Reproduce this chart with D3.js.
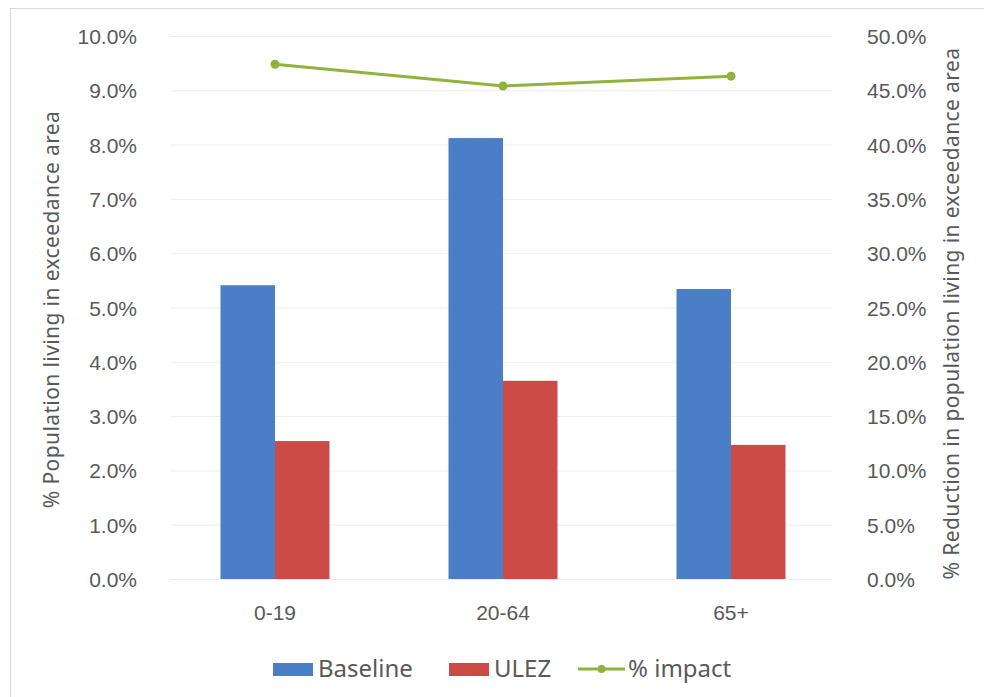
<!DOCTYPE html>
<html>
<head>
<meta charset="utf-8">
<script src="https://cdn.jsdelivr.net/npm/d3@7"></script>
<style>
  html, body { margin: 0; padding: 0; background: #fff; }
  svg { display: block; font-family: "Noto Sans", "Open Sans", sans-serif; }
</style>
</head>
<body>
<svg id="chart" width="984" height="697"></svg>
<script>
// Age groups and series
const categories = ["0-19", "20-64", "65+"];
const baseline = [0.0541, 0.0812, 0.0534];   // % population living in exceedance area, baseline
const ulez = [0.0254, 0.0365, 0.0247];       // same, with ULEZ
const impact = [0.474, 0.454, 0.463];        // % reduction (right axis)
const leftTicks = [0, 0.01, 0.02, 0.03, 0.04, 0.05, 0.06, 0.07, 0.08, 0.09, 0.10];
const rightTicks = [0, 0.05, 0.10, 0.15, 0.20, 0.25, 0.30, 0.35, 0.40, 0.45, 0.50];
const seriesNames = ["Baseline", "ULEZ", "% impact"];

const colors = { base: "#4a7ec6", ulez: "#cc4b46", line: "#8fb33c", text: "#595959", grid: "#eeeeee" };

const svg = d3.select("#chart");
const W = 984, H = 697;

// chart frame
svg.append("rect").attr("x", 10.5).attr("y", 8.5).attr("width", W).attr("height", H)
  .attr("fill", "#fff").attr("stroke", "#d9d9d9").attr("stroke-width", 1);

const plot = { left: 161, right: 845, top: 36, bottom: 579 };
const gridSpan = { left: 170, right: 832 };

const x = d3.scaleBand().domain(categories).range([plot.left, plot.right]).paddingInner(0.522).paddingOuter(0.261);
const xs = d3.scaleBand().domain(["base", "ulez"]).range([0, x.bandwidth()]);
const yL = d3.scaleLinear().domain([0, 0.10]).range([plot.bottom, plot.top]);
const yR = d3.scaleLinear().domain([0, 0.50]).range([plot.bottom, plot.top]);
const fmt = d3.format(".1%");

// gridlines
svg.append("g").selectAll("line").data(leftTicks).join("line")
  .attr("x1", gridSpan.left).attr("x2", gridSpan.right)
  .attr("y1", d => yL(d) + 0.5).attr("y2", d => yL(d) + 0.5)
  .attr("stroke", colors.grid).attr("stroke-width", 1);

// left axis
const gL = svg.append("g").attr("transform", `translate(${137},0)`)
  .call(d3.axisLeft(yL).tickValues(leftTicks).tickFormat(fmt).tickSize(0).tickPadding(0));
gL.select(".domain").remove();
gL.selectAll("text").attr("fill", colors.text).style("font-size", "21px").attr("dy", "0.36em");

// right axis
const gR = svg.append("g").attr("transform", `translate(${867},0)`)
  .call(d3.axisRight(yR).tickValues(rightTicks).tickFormat(fmt).tickSize(0).tickPadding(0));
gR.select(".domain").remove();
gR.selectAll("text").attr("fill", colors.text).style("font-size", "21px").attr("dy", "0.36em");

// category axis
const gX = svg.append("g").attr("transform", `translate(0,${plot.bottom})`)
  .call(d3.axisBottom(x).tickSize(0).tickPadding(41));
gX.select(".domain").remove();
gX.selectAll("text").attr("fill", colors.text).style("font-size", "21px").attr("dy", "0");

// bars
const groups = svg.append("g").selectAll("g").data(categories).join("g")
  .attr("transform", d => `translate(${x(d)},0)`);
groups.append("rect")
  .attr("x", xs("base")).attr("width", xs.bandwidth())
  .attr("y", (d, i) => yL(baseline[i])).attr("height", (d, i) => yL(0) - yL(baseline[i]))
  .attr("fill", colors.base);
groups.append("rect")
  .attr("x", xs("ulez")).attr("width", xs.bandwidth())
  .attr("y", (d, i) => yL(ulez[i])).attr("height", (d, i) => yL(0) - yL(ulez[i]))
  .attr("fill", colors.ulez);

// impact line
const cx = d => x(d) + x.bandwidth() / 2;
const line = d3.line().x((d, i) => cx(categories[i])).y(d => yR(d));
svg.append("path").datum(impact).attr("d", line)
  .attr("fill", "none").attr("stroke", colors.line).attr("stroke-width", 3).attr("stroke-linejoin", "round");
svg.append("g").selectAll("circle").data(impact).join("circle")
  .attr("cx", (d, i) => cx(categories[i])).attr("cy", d => yR(d)).attr("r", 4.5)
  .attr("fill", colors.line);

// axis titles
const midY = (plot.top + plot.bottom) / 2;
svg.append("text").attr("transform", `translate(59,${midY + 2}) rotate(-90)`)
  .attr("text-anchor", "middle").attr("fill", colors.text).style("font-size", "21px")
  .style("letter-spacing", "0.4px")
  .text("% Population living in exceedance area");
svg.append("text").attr("transform", `translate(959,${midY + 6}) rotate(-90)`)
  .attr("text-anchor", "middle").attr("fill", colors.text).style("font-size", "21px")
  .style("letter-spacing", "0.4px")
  .text("% Reduction in population living in exceedance area");

// legend
const legY = 669;
const leg = svg.append("g").style("font-size", "24px").attr("fill", colors.text);
const legItems = [
  { name: seriesNames[0], type: "rect", color: colors.base, x: 273 },
  { name: seriesNames[1], type: "rect", color: colors.ulez, x: 449 },
  { name: seriesNames[2], type: "line", color: colors.line, x: 578 }
];
legItems.forEach(it => {
  if (it.type === "rect") {
    leg.append("rect").attr("x", it.x).attr("y", legY - 6).attr("width", 40).attr("height", 13).attr("fill", it.color);
  } else {
    leg.append("line").attr("x1", it.x).attr("x2", it.x + 47).attr("y1", legY).attr("y2", legY)
      .attr("stroke", it.color).attr("stroke-width", 3);
    leg.append("circle").attr("cx", it.x + 23.5).attr("cy", legY).attr("r", 4).attr("fill", it.color);
  }
  leg.append("text").attr("x", it.x + (it.type === "rect" ? 45 : 50)).attr("y", legY).attr("dy", "0.35em")
    .text(it.name);
});
</script>
</body>
</html>
